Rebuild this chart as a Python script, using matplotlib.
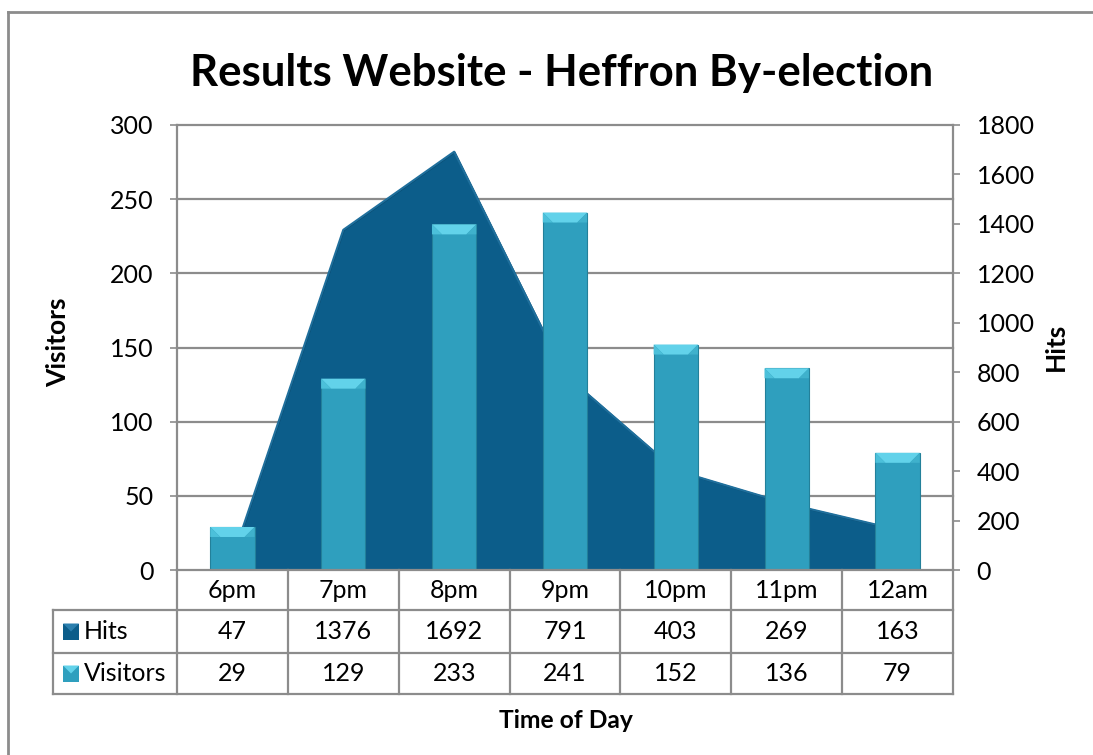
import numpy as np
import matplotlib
matplotlib.use("Agg")
import matplotlib.pyplot as plt
from matplotlib.lines import Line2D
from matplotlib.patches import Rectangle, Polygon

plt.rcParams['font.family'] = ['Lato', 'DejaVu Sans']

# ---- data ----
categories = ["6pm", "7pm", "8pm", "9pm", "10pm", "11pm", "12am"]
hits = [47, 1376, 1692, 791, 403, 269, 163]
visitors = [29, 129, 233, 241, 152, 136, 79]
visitor_ticks = [0, 50, 100, 150, 200, 250, 300]
hit_ticks = [0, 200, 400, 600, 800, 1000, 1200, 1400, 1600, 1800]
title = "Results Website - Heffron By-election"

# ---- styles ----
W, H = 1093, 755
GRAY = '#8c8c8c'
AREA = '#0c5d8a'
AREA_EDGE = '#094a6f'
BAR = '#2f9fbe'
BAR_EDGE = '#23809a'
BEVEL = '#62d2ea'
NUM_FS = 18

fig = plt.figure(figsize=(W / 100, H / 100), dpi=100)
fig.patch.set_facecolor('white')

pl, pr, pt, pb = 177, 953, 125, 570
ax = fig.add_axes([pl / W, 1 - pb / H, (pr - pl) / W, (pb - pt) / H])
ax2 = ax.twinx()
ax.set_zorder(2)
ax2.set_zorder(1)
ax.patch.set_visible(False)
ax2.patch.set_visible(False)

x = np.arange(len(categories))
ax.set_xlim(-0.5, len(categories) - 0.5)
ax.set_ylim(visitor_ticks[0], visitor_ticks[-1])
ax2.set_ylim(hit_ticks[0], hit_ticks[-1])

# gridlines (behind area)
for v in visitor_ticks[1:]:
    ax2.plot([0, 1], [v, v], transform=ax.get_yaxis_transform(), color=GRAY,
             lw=1.6, zorder=0.5, clip_on=False)

# area for hits
ax2.fill_between(x, hits, 0, facecolor=AREA, edgecolor=AREA_EDGE, lw=1.2, zorder=2)
ax2.plot(x, hits, color='#1f6f9c', lw=1.5, zorder=2.1)

# bars for visitors
bw = 0.4
ax.bar(x, visitors, width=bw, color=BAR, edgecolor=BAR_EDGE, lw=0.8, zorder=3)
px_per_x = (pr - pl) / len(categories)
px_per_y = (pb - pt) / (visitor_ticks[-1] - visitor_ticks[0])
bev_x = 10 / px_per_x
bev_y = 10 / px_per_y
for xi, v in zip(x, visitors):
    x0, x1 = xi - bw / 2, xi + bw / 2
    ax.add_patch(Polygon([(x0, v), (x1, v), (x1 - bev_x, v - bev_y), (x0 + bev_x, v - bev_y)],
                         closed=True, facecolor=BEVEL, edgecolor='none', zorder=4))
    ax.add_patch(Polygon([(x0, v), (x0 + bev_x, v - bev_y), (x0, v - bev_y)],
                         closed=True, facecolor='#4cc0da', edgecolor='none', zorder=4))
    ax.add_patch(Polygon([(x1, v), (x1 - bev_x, v - bev_y), (x1, v - bev_y)],
                         closed=True, facecolor='#3fb1cc', edgecolor='none', zorder=4))

# spines & ticks
for s in ['top', 'right']:
    ax.spines[s].set_visible(False)
for s in ['top', 'left', 'bottom']:
    ax2.spines[s].set_visible(False)
for sp in [ax.spines['left'], ax.spines['bottom'], ax2.spines['right']]:
    sp.set_color(GRAY)
    sp.set_linewidth(1.6)
ax.spines['bottom'].set_zorder(5)

ax.set_yticks(visitor_ticks)
ax2.set_yticks(hit_ticks)
ax.set_xticks([])
ax.tick_params(axis='y', direction='out', length=5, width=1.2, color=GRAY,
               labelsize=NUM_FS, pad=12)
ax2.tick_params(axis='y', direction='out', length=5, width=1.2, color=GRAY,
                labelsize=NUM_FS, pad=12)

# ---- data table ----
tr = ax.get_xaxis_transform()
r0 = 0
r1 = -40 / (pb - pt)
r2 = -83 / (pb - pt)
r3 = -124 / (pb - pt)
xl = -0.5 - (pl - 53) / px_per_x
xr = len(categories) - 0.5

def tline(xs, ys):
    ax.add_line(Line2D(xs, ys, transform=tr, color=GRAY, lw=1.6, clip_on=False, zorder=5))

for r in (r1, r2, r3):
    tline([xl, xr], [r, r])
for k in range(len(categories) + 1):
    tline([k - 0.5, k - 0.5], [r0, r3])
tline([xl, xl], [r1, r3])

for i, c in enumerate(categories):
    ax.text(i, (r0 + r1) / 2, c, transform=tr, ha='center', va='center', fontsize=NUM_FS)
    ax.text(i, (r1 + r2) / 2, str(hits[i]), transform=tr, ha='center', va='center', fontsize=NUM_FS)
    ax.text(i, (r2 + r3) / 2, str(visitors[i]), transform=tr, ha='center', va='center', fontsize=NUM_FS)

key_x = -0.5 - (pl - 63) / px_per_x
key_w = 16 / px_per_x
key_h = 16 / (pb - pt)
lab_x = -0.5 - (pl - 84) / px_per_x
for (rt, rb), name, col, top in [((r1, r2), "Hits", AREA, '#2b7fae'),
                                  ((r2, r3), "Visitors", BAR, BEVEL)]:
    cy = (rt + rb) / 2
    ax.add_patch(Rectangle((key_x, cy - key_h / 2), key_w, key_h, transform=tr,
                           facecolor=col, edgecolor='none', clip_on=False, zorder=5))
    ax.add_patch(Polygon([(key_x, cy + key_h / 2), (key_x + key_w, cy + key_h / 2),
                          (key_x + key_w / 2, cy)], closed=True, transform=tr,
                         facecolor=top, edgecolor='none', clip_on=False, zorder=6))
    ax.text(lab_x, cy, name, transform=tr, ha='left', va='center', fontsize=NUM_FS)

# ---- titles ----
fig.text(562 / W, 1 - 73 / H, title, ha='center', va='center', fontsize=31.5, fontweight='bold')
fig.text(58 / W, 1 - 342 / H, "Visitors", ha='center', va='center', rotation=90,
         fontsize=19, fontweight='bold')
fig.text(1056 / W, 1 - 347 / H, "Hits", ha='center', va='center', rotation=90,
         fontsize=19, fontweight='bold')
fig.text(566 / W, 1 - 720 / H, "Time of Day", ha='center', va='center',
         fontsize=17.7, fontweight='bold')

# outer chart frame (top and left edges visible)
fig.add_artist(Line2D([8 / W, 8 / W], [0, 1 - 12 / H], color=GRAY, lw=2))
fig.add_artist(Line2D([8 / W, 1], [1 - 12 / H, 1 - 12 / H], color=GRAY, lw=2))

fig.savefig("out.png", dpi=100)
